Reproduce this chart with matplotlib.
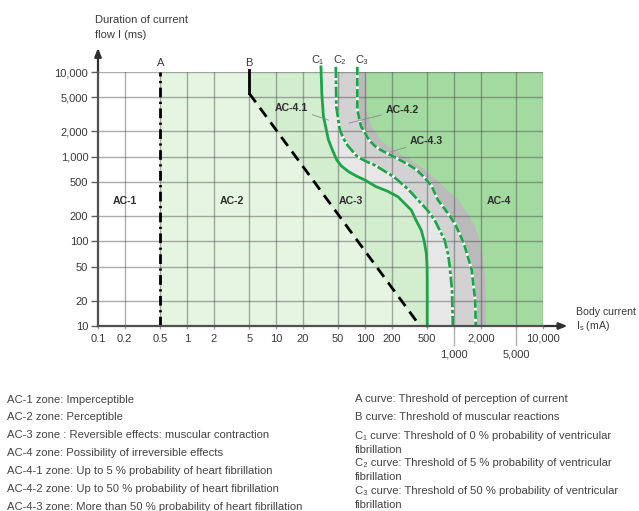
import matplotlib
matplotlib.use("Agg")
import matplotlib.pyplot as plt

plt.rcParams['font.family'] = ['Liberation Sans', 'DejaVu Sans']
plt.rcParams['mathtext.fontset'] = 'custom'
plt.rcParams['mathtext.rm'] = 'Liberation Sans'

# ticks
x_ticks = [0.1, 0.2, 0.5, 1, 2, 5, 10, 20, 50, 100, 200, 500, 1000, 2000, 5000, 10000]
x_labels = ['0.1', '0.2', '0.5', '1', '2', '5', '10', '20', '50', '100', '200', '500',
            '1,000', '2,000', '5,000', '10,000']
x_low = [1000, 5000]  # labels printed on a second row
y_ticks = [10, 20, 50, 100, 200, 500, 1000, 2000, 5000, 10000]
y_labels = ['10', '20', '50', '100', '200', '500', '1,000', '2,000', '5,000', '10,000']

# curves: body current (mA) vs duration (ms)
a_x = [0.5, 0.5]
a_y = [10, 10000]
b_x = [5, 5, 415]
b_y = [10500, 5600, 10]
c1_x = [32, 32.7, 34.1, 38.8, 43, 48, 54, 65, 80, 99, 133, 180, 235, 331, 374, 429, 460, 489, 498, 500, 500]
c1_y = [11500, 5600, 3000, 1585, 1200, 920, 780, 668, 590, 532, 443, 390, 336, 234, 178, 135, 103, 72, 50, 35, 10]
c2_x = [47, 47.6, 52, 57, 64, 82, 105, 130, 210, 300, 394, 500, 607, 786, 860, 896, 951, 970]
c2_y = [11500, 3900, 2100, 1650, 1350, 1000, 870, 790, 580, 420, 308, 235, 178, 103, 70, 50, 26.6, 10]
c3_x = [82, 82, 90, 112, 128, 150, 230, 300, 380, 470, 560, 660, 840, 1019, 1190, 1327, 1581, 1730, 1757]
c3_y = [11500, 3600, 2300, 1550, 1350, 1200, 950, 820, 700, 560, 450, 308, 220, 163, 115, 86, 46, 20, 10]
band_x = [103, 104, 118, 150, 210, 330, 440, 560, 800, 1112, 1420, 1730, 1930, 2060, 2250, 2290]
band_y = [10000, 3600, 2300, 1550, 1200, 900, 740, 600, 420, 308, 210, 148, 105, 78, 35, 10]
c_names = ['C\u2081', 'C\u2082', 'C\u2083']
c_label_x = [29, 52, 92]

# zone labels
zone_names = ['AC-1', 'AC-2', 'AC-3', 'AC-4']
zone_x = [0.2, 3.2, 70, 3200]
zone_y = [300, 300, 300, 300]
sub_names = ['AC-4.1', 'AC-4.2', 'AC-4.3']
sub_text = [(15, 3770), (261, 3575), (489, 1514)]
sub_point = [(39, 2700), (66, 2490), (190, 1130)]

left_notes = ['AC-1 zone: Imperceptible',
              'AC-2 zone: Perceptible',
              'AC-3 zone : Reversible effects: muscular contraction',
              'AC-4 zone: Possibility of irreversible effects',
              'AC-4-1 zone: Up to 5 % probability of heart fibrillation',
              'AC-4-2 zone: Up to 50 % probability of heart fibrillation',
              'AC-4-3 zone: More than 50 % probability of heart fibrillation']
right_notes = ['A curve: Threshold of perception of current',
               'B curve: Threshold of muscular reactions',
               'C\u2081 curve: Threshold of 0 % probability of ventricular',
               'fibrillation',
               'C\u2082 curve: Threshold of 5 % probability of ventricular',
               'fibrillation',
               'C\u2083 curve: Threshold of 50 % probability of ventricular',
               'fibrillation']

ac2 = '#e6f5e1'
ac3 = '#d3edcf'
ac41 = '#e7e7e7'
ac42 = '#d2d2d2'
ac43 = '#bababa'
ac4 = '#a3daa0'
green = '#1ba548'
txt = '#3a3a3a'

fig = plt.figure(figsize=(6.39, 5.11), dpi=100)
ax = fig.add_axes([98 / 639, 1 - 326 / 511, 445 / 639, 254 / 511])
ax.set_xscale('log')
ax.set_yscale('log')
xmin, xmax, ymin, ymax = 0.1, 10000, 10, 10000
ax.set_xlim(xmin, xmax)
ax.set_ylim(ymin, ymax)

# zones, painted from left to right
ax.fill([a_x[0], a_x[0], xmax, xmax], [ymin, ymax, ymax, ymin], color=ac2, lw=0, zorder=1)
ax.fill(b_x + [xmax, xmax], b_y + [ymin, b_y[0]], color=ac3, lw=0, zorder=1)
ax.fill(c1_x + [xmax, xmax], c1_y + [ymin, c1_y[0]], color=ac41, lw=0, zorder=1)
ax.fill(c2_x + [xmax, xmax], c2_y + [ymin, c2_y[0]], color=ac42, lw=0, zorder=1)
ax.fill(c3_x + [xmax, xmax], c3_y + [ymin, c3_y[0]], color=ac43, lw=0, zorder=1)
ax.fill(band_x + [xmax, xmax], band_y + [ymin, band_y[0]], color=ac4, lw=0, zorder=1)

# grid
for xv in x_ticks[1:]:
    ax.axvline(xv, color='#4a4a4a', alpha=0.45, lw=1.0, zorder=1.5)
for yv in y_ticks[1:]:
    ax.axhline(yv, color='#4a4a4a', alpha=0.45, lw=1.0, zorder=1.5)

# curves
ax.plot(a_x, a_y, color='black', lw=2.0, ls=(0, (3.5, 1.6, 0.8, 1.6)), zorder=4, clip_on=False)
ax.plot(b_x[:2], b_y[:2], color='black', lw=2.0, zorder=4, clip_on=False)
ax.plot(b_x[1:], b_y[1:], color='black', lw=2.0, ls=(0, (4, 2.5)), zorder=4)
ax.plot(c1_x, c1_y, color=green, lw=2.0, zorder=4, clip_on=False)
ax.plot(c2_x, c2_y, color='white', lw=2.0, zorder=4, clip_on=False)
ax.plot(c2_x, c2_y, color=green, lw=2.0, ls=(0, (4, 0.9, 1.3, 0.9)), zorder=4.1, clip_on=False)
ax.plot(c3_x, c3_y, color='white', lw=2.0, zorder=4, clip_on=False)
ax.plot(c3_x, c3_y, color=green, lw=2.0, ls=(0, (3, 1)), zorder=4.1, clip_on=False)

# curve names above the frame
xt = ax.get_xaxis_transform()
for name, xv in [('A', a_x[0]), ('B', b_x[0])]:
    ax.text(xv, 1.034, name, transform=xt, ha='center', va='center', fontsize=8, color=txt)
for name, xv in zip(c_names, c_label_x):
    ax.text(xv, 1.046, name, transform=xt, ha='center', va='center', fontsize=8, color=txt)

# zone labels
for name, zx, zy in zip(zone_names, zone_x, zone_y):
    ax.text(zx, zy, name, ha='center', va='center', fontsize=7.6, fontweight='bold', color='#2e2e2e', zorder=5)
for name, tp, pp in zip(sub_names, sub_text, sub_point):
    ax.annotate(name, xy=pp, xytext=tp, ha='center', va='center', fontsize=7.6, fontweight='bold',
                color='#2e2e2e', zorder=5,
                arrowprops=dict(arrowstyle='-', color='#8c8c8c', lw=0.6, shrinkA=1, shrinkB=0))

# axes
for s in ['top', 'right']:
    ax.spines[s].set_visible(False)
for s in ['left', 'bottom']:
    ax.spines[s].set_color('#505050')
    ax.spines[s].set_linewidth(1.6)
    ax.spines[s].set_zorder(6)
ax.annotate('', xy=(0, 1.095), xytext=(0, 1.0), xycoords='axes fraction',
            arrowprops=dict(arrowstyle='-|>,head_length=0.5,head_width=0.2', color='#303030',
                            lw=1.6, shrinkA=0, shrinkB=0))
ax.annotate('', xy=(1.055, 0), xytext=(1.0, 0), xycoords='axes fraction',
            arrowprops=dict(arrowstyle='-|>,head_length=0.5,head_width=0.2', color='#303030',
                            lw=1.6, shrinkA=0, shrinkB=0))

ax.minorticks_off()
ax.set_yticks(y_ticks, labels=y_labels)
ax.set_xticks(x_ticks, labels=['' if xv in x_low else lb for xv, lb in zip(x_ticks, x_labels)])
ax.tick_params(axis='y', length=5, width=1, color='#606060', labelsize=8, labelcolor=txt, pad=2)
ax.tick_params(axis='x', length=2, width=1, color='#a0a0a0', labelsize=8, labelcolor=txt, pad=3.5)
for xv, lb in zip(x_ticks, x_labels):
    if xv in x_low:
        ax.plot([xv, xv], [0, -0.075], transform=xt, color='#b0b0b0', lw=1.0, clip_on=False)
        ax.text(xv, -0.112, lb, transform=xt, ha='center', va='center', fontsize=8, color=txt)

fig.text(95 / 639, 1 - 20 / 511, 'Duration of current', fontsize=8, color=txt, va='center')
fig.text(95 / 639, 1 - 35 / 511, 'flow I (ms)', fontsize=8, color=txt, va='center')
fig.text(576 / 639, 1 - 312 / 511, 'Body current', fontsize=7.6, color=txt, va='center')
fig.text(576 / 639, 1 - 326 / 511, r'I$_\mathrm{s}$ (mA)', fontsize=7.6, color=txt, va='center')

left_rows = [400, 417, 435, 453, 471, 489, 507]
for note, py in zip(left_notes, left_rows):
    fig.text(7 / 639, 1 - py / 511, note, fontsize=8.1, color='#444444', va='center')
right_rows = [399, 417, 436, 450, 463, 477, 491, 505]
for note, py in zip(right_notes, right_rows):
    fig.text(355 / 639, 1 - py / 511, note, fontsize=8.1, color='#444444', va='center')

fig.savefig('out.png', dpi=100)
